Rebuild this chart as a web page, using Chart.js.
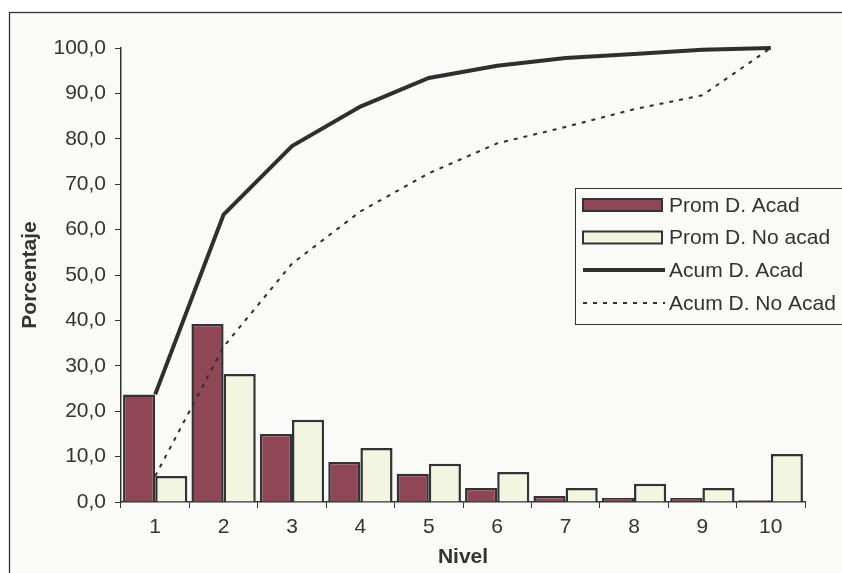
<!DOCTYPE html>
<html>
<head>
<meta charset="utf-8">
<script src="https://cdn.jsdelivr.net/npm/chart.js@4.4.1/dist/chart.umd.min.js"></script>
<style>
  html, body { margin: 0; padding: 0; background: #ffffff; }
  #wrap { position: relative; width: 842px; height: 573px; }
</style>
</head>
<body>
<div id="wrap"><canvas id="nivelChart" width="842" height="573"></canvas></div>
<script>
// Data
const niveles = ['1', '2', '3', '4', '5', '6', '7', '8', '9', '10'];
const promAcad = [23.7, 39.2, 15.0, 8.8, 6.2, 3.1, 1.3, 0.9, 0.9, 0.4];
const promNoAcad = [5.7, 28.2, 18.1, 11.9, 8.4, 6.6, 3.1, 4.0, 3.1, 10.6];
const acumAcad = [23.7, 63.3, 78.4, 87.1, 93.4, 96.1, 97.8, 98.7, 99.6, 100.0];
const acumNoAcad = [5.7, 34.2, 52.5, 64.0, 72.4, 79.0, 82.6, 86.5, 89.6, 100.0];
const yTicks = [0, 10, 20, 30, 40, 50, 60, 70, 80, 90, 100];

const ink = '#333333';
const fontFamily = "'Liberation Sans', Arial, sans-serif";

// Background panel and outer frame
const framePlugin = {
  id: 'frame',
  beforeDraw(chart) {
    const c = chart.ctx;
    c.save();
    c.fillStyle = '#ffffff';
    c.fillRect(0, 0, chart.width, chart.height);
    c.fillStyle = '#fafaf8';
    c.fillRect(9.5, 12.5, 900, 700);
    c.restore();
  },
  afterDraw(chart) {
    const c = chart.ctx;
    c.save();
    c.strokeStyle = ink;
    c.lineWidth = 1.3;
    c.strokeRect(9.5, 12.5, 900, 700);
    c.restore();
  }
};

// Boxed legend inside the plot, like the original
const boxLegend = {
  id: 'boxLegend',
  afterDraw(chart) {
    const c = chart.ctx;
    const x0 = 575.5, y0 = 188.5;
    c.save();
    c.fillStyle = '#fafaf8';
    c.fillRect(x0, y0, 300, 136);
    c.strokeStyle = ink;
    c.lineWidth = 1;
    c.strokeRect(x0, y0, 300, 136);
    c.font = '21px ' + fontFamily;
    c.textBaseline = 'middle';
    const rows = [205, 237.5, 270, 303];
    chart.data.datasets.forEach((ds, i) => {
      const y = rows[i];
      if (ds.type === 'line') {
        c.strokeStyle = ds.borderColor;
        c.lineWidth = ds.borderWidth;
        c.setLineDash(ds.borderDash || []);
        c.beginPath();
        c.moveTo(583, y);
        c.lineTo(665, y);
        c.stroke();
        c.setLineDash([]);
      } else {
        c.fillStyle = ds.backgroundColor;
        c.fillRect(583, y - 6, 79, 12);
        c.strokeStyle = ink;
        c.lineWidth = 2;
        c.strokeRect(583, y - 6, 79, 12);
      }
      c.fillStyle = ink;
      c.fillText(ds.label, 669, y + 1);
    });
    c.restore();
  }
};

const ctx = document.getElementById('nivelChart').getContext('2d');
const chart = new Chart(ctx, {
  type: 'bar',
  data: {
    labels: niveles,
    datasets: [
      {
        label: 'Prom D. Acad',
        data: promAcad,
        backgroundColor: '#8f4656',
        borderColor: ink,
        borderWidth: 2.5,
        order: 2
      },
      {
        label: 'Prom D. No acad',
        data: promNoAcad,
        backgroundColor: '#f2f6e1',
        borderColor: ink,
        borderWidth: 2.5,
        order: 2
      },
      {
        type: 'line',
        label: 'Acum D. Acad',
        data: acumAcad,
        borderColor: '#2f2f2f',
        borderWidth: 4,
        pointRadius: 0,
        tension: 0,
        clip: false,
        order: 1
      },
      {
        type: 'line',
        label: 'Acum D. No Acad',
        data: acumNoAcad,
        borderColor: '#2f2f2f',
        borderWidth: 2,
        borderDash: [4, 6],
        pointRadius: 0,
        tension: 0,
        clip: false,
        order: 1
      }
    ]
  },
  options: {
    responsive: false,
    animation: false,
    devicePixelRatio: 1,
    layout: { padding: { left: 0, top: 48, right: 37, bottom: 0 } },
    datasets: {
      bar: { categoryPercentage: 0.94, barPercentage: 1.0 }
    },
    plugins: {
      legend: { display: false },
      tooltip: { enabled: false }
    },
    scales: {
      x: {
        offset: true,
        grid: {
          offset: true,
          drawOnChartArea: false,
          drawTicks: true,
          tickLength: 6,
          tickColor: ink,
          tickWidth: 1
        },
        border: { display: true, color: ink, width: 1.5 },
        ticks: {
          color: ink,
          padding: 7,
          font: { family: fontFamily, size: 21 },
          maxRotation: 0
        },
        title: {
          display: true,
          text: 'Nivel',
          color: ink,
          font: { family: fontFamily, size: 21, weight: 'bold' },
          padding: { top: 0, bottom: 3 }
        },
        afterFit(scale) { scale.height = 71; }
      },
      y: {
        min: 0,
        max: 100,
        afterBuildTicks(scale) {
          scale.ticks = yTicks.map(v => ({ value: v }));
        },
        grid: {
          drawOnChartArea: false,
          drawTicks: true,
          tickLength: 6,
          tickColor: ink,
          tickWidth: 1
        },
        border: { display: true, color: ink, width: 1.5 },
        ticks: {
          color: ink,
          padding: 9,
          font: { family: fontFamily, size: 21 },
          callback: v => v.toFixed(1).replace('.', ',')
        },
        title: {
          display: true,
          text: 'Porcentaje',
          color: ink,
          font: { family: fontFamily, size: 21, weight: 'bold' },
          padding: { top: 18, bottom: 0 }
        },
        afterFit(scale) { scale.width = 121; }
      }
    }
  },
  plugins: [framePlugin, boxLegend]
});
</script>
</body>
</html>
